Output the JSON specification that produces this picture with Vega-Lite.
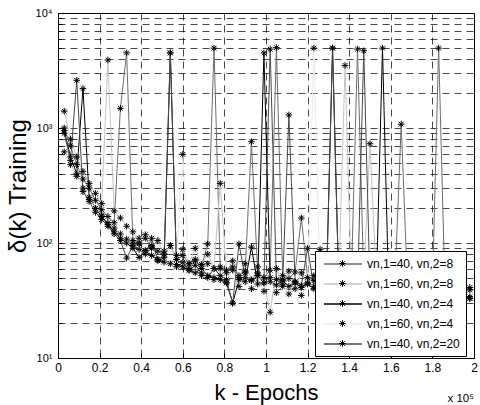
{
"$schema": "https://vega.github.io/schema/vega-lite/v6.json",
"width": 416,
"height": 345,
"autosize": {"type": "none"},
"padding": {"left": 58, "top": 13, "right": 6, "bottom": 47},
"background": "white",
"config": {
  "font": "Liberation Sans",
  "view": {"stroke": "#000", "strokeWidth": 1}
},
"title": {"text": "x 10⁵", "orient": "bottom", "anchor": "end", "frame": "group", "fontSize": 11.5, "fontWeight": "normal", "offset": -10, "font": "Liberation Sans", "color": "#000"},
"data": {"values": [
{"s":"vn,1=40, vn,2=8","x":0.03,"y":1000},{"s":"vn,1=40, vn,2=8","x":0.06,"y":700},{"s":"vn,1=40, vn,2=8","x":0.09,"y":480},{"s":"vn,1=40, vn,2=8","x":0.12,"y":360},{"s":"vn,1=40, vn,2=8","x":0.15,"y":300},{"s":"vn,1=40, vn,2=8","x":0.18,"y":235},{"s":"vn,1=40, vn,2=8","x":0.21,"y":195},{"s":"vn,1=40, vn,2=8","x":0.24,"y":170},{"s":"vn,1=40, vn,2=8","x":0.27,"y":150},{"s":"vn,1=40, vn,2=8","x":0.3,"y":1480},{"s":"vn,1=40, vn,2=8","x":0.33,"y":4500},{"s":"vn,1=40, vn,2=8","x":0.36,"y":105},{"s":"vn,1=40, vn,2=8","x":0.39,"y":98},{"s":"vn,1=40, vn,2=8","x":0.42,"y":110},{"s":"vn,1=40, vn,2=8","x":0.45,"y":92},{"s":"vn,1=40, vn,2=8","x":0.48,"y":85},{"s":"vn,1=40, vn,2=8","x":0.51,"y":80},{"s":"vn,1=40, vn,2=8","x":0.54,"y":95},{"s":"vn,1=40, vn,2=8","x":0.57,"y":72},{"s":"vn,1=40, vn,2=8","x":0.6,"y":78},{"s":"vn,1=40, vn,2=8","x":0.63,"y":66},{"s":"vn,1=40, vn,2=8","x":0.66,"y":70},{"s":"vn,1=40, vn,2=8","x":0.69,"y":63},{"s":"vn,1=40, vn,2=8","x":0.72,"y":98},{"s":"vn,1=40, vn,2=8","x":0.75,"y":4950},{"s":"vn,1=40, vn,2=8","x":0.78,"y":60},{"s":"vn,1=40, vn,2=8","x":0.81,"y":58},{"s":"vn,1=40, vn,2=8","x":0.84,"y":62},{"s":"vn,1=40, vn,2=8","x":0.87,"y":52},{"s":"vn,1=40, vn,2=8","x":0.9,"y":57},{"s":"vn,1=40, vn,2=8","x":0.93,"y":760},{"s":"vn,1=40, vn,2=8","x":0.96,"y":55},{"s":"vn,1=40, vn,2=8","x":0.99,"y":50},{"s":"vn,1=40, vn,2=8","x":1.02,"y":58},{"s":"vn,1=40, vn,2=8","x":1.05,"y":5000},{"s":"vn,1=40, vn,2=8","x":1.08,"y":52},{"s":"vn,1=40, vn,2=8","x":1.11,"y":49},{"s":"vn,1=40, vn,2=8","x":1.14,"y":56},{"s":"vn,1=40, vn,2=8","x":1.17,"y":165},{"s":"vn,1=40, vn,2=8","x":1.2,"y":50},{"s":"vn,1=40, vn,2=8","x":1.23,"y":47},{"s":"vn,1=40, vn,2=8","x":1.26,"y":88},{"s":"vn,1=40, vn,2=8","x":1.29,"y":46},{"s":"vn,1=40, vn,2=8","x":1.32,"y":50},{"s":"vn,1=40, vn,2=8","x":1.35,"y":44},{"s":"vn,1=40, vn,2=8","x":1.38,"y":48},{"s":"vn,1=40, vn,2=8","x":1.41,"y":45},{"s":"vn,1=40, vn,2=8","x":1.44,"y":4850},{"s":"vn,1=40, vn,2=8","x":1.47,"y":47},{"s":"vn,1=40, vn,2=8","x":1.5,"y":43},{"s":"vn,1=40, vn,2=8","x":1.53,"y":46},{"s":"vn,1=40, vn,2=8","x":1.56,"y":44},{"s":"vn,1=40, vn,2=8","x":1.59,"y":42},{"s":"vn,1=40, vn,2=8","x":1.62,"y":45},{"s":"vn,1=40, vn,2=8","x":1.65,"y":1080},{"s":"vn,1=40, vn,2=8","x":1.68,"y":43},{"s":"vn,1=40, vn,2=8","x":1.71,"y":41},{"s":"vn,1=40, vn,2=8","x":1.74,"y":44},{"s":"vn,1=40, vn,2=8","x":1.77,"y":42},{"s":"vn,1=40, vn,2=8","x":1.8,"y":40},{"s":"vn,1=40, vn,2=8","x":1.83,"y":4950},{"s":"vn,1=40, vn,2=8","x":1.86,"y":42},{"s":"vn,1=40, vn,2=8","x":1.89,"y":40},{"s":"vn,1=40, vn,2=8","x":1.92,"y":43},{"s":"vn,1=40, vn,2=8","x":1.95,"y":39},{"s":"vn,1=40, vn,2=8","x":1.98,"y":41},
{"s":"vn,1=60, vn,2=8","x":0.03,"y":1400},{"s":"vn,1=60, vn,2=8","x":0.06,"y":800},{"s":"vn,1=60, vn,2=8","x":0.09,"y":560},{"s":"vn,1=60, vn,2=8","x":0.12,"y":420},{"s":"vn,1=60, vn,2=8","x":0.15,"y":330},{"s":"vn,1=60, vn,2=8","x":0.18,"y":270},{"s":"vn,1=60, vn,2=8","x":0.21,"y":220},{"s":"vn,1=60, vn,2=8","x":0.24,"y":3900},{"s":"vn,1=60, vn,2=8","x":0.27,"y":190},{"s":"vn,1=60, vn,2=8","x":0.3,"y":165},{"s":"vn,1=60, vn,2=8","x":0.33,"y":140},{"s":"vn,1=60, vn,2=8","x":0.36,"y":125},{"s":"vn,1=60, vn,2=8","x":0.39,"y":100},{"s":"vn,1=60, vn,2=8","x":0.42,"y":118},{"s":"vn,1=60, vn,2=8","x":0.45,"y":90},{"s":"vn,1=60, vn,2=8","x":0.48,"y":105},{"s":"vn,1=60, vn,2=8","x":0.51,"y":80},{"s":"vn,1=60, vn,2=8","x":0.54,"y":95},{"s":"vn,1=60, vn,2=8","x":0.57,"y":72},{"s":"vn,1=60, vn,2=8","x":0.6,"y":88},{"s":"vn,1=60, vn,2=8","x":0.63,"y":66},{"s":"vn,1=60, vn,2=8","x":0.66,"y":90},{"s":"vn,1=60, vn,2=8","x":0.69,"y":65},{"s":"vn,1=60, vn,2=8","x":0.72,"y":80},{"s":"vn,1=60, vn,2=8","x":0.75,"y":60},{"s":"vn,1=60, vn,2=8","x":0.78,"y":330},{"s":"vn,1=60, vn,2=8","x":0.81,"y":55},{"s":"vn,1=60, vn,2=8","x":0.84,"y":70},{"s":"vn,1=60, vn,2=8","x":0.87,"y":50},{"s":"vn,1=60, vn,2=8","x":0.9,"y":66},{"s":"vn,1=60, vn,2=8","x":0.93,"y":48},{"s":"vn,1=60, vn,2=8","x":0.96,"y":62},{"s":"vn,1=60, vn,2=8","x":0.99,"y":45},{"s":"vn,1=60, vn,2=8","x":1.02,"y":25},{"s":"vn,1=60, vn,2=8","x":1.05,"y":60},{"s":"vn,1=60, vn,2=8","x":1.08,"y":42},{"s":"vn,1=60, vn,2=8","x":1.11,"y":57},{"s":"vn,1=60, vn,2=8","x":1.14,"y":40},{"s":"vn,1=60, vn,2=8","x":1.17,"y":55},{"s":"vn,1=60, vn,2=8","x":1.2,"y":45},{"s":"vn,1=60, vn,2=8","x":1.23,"y":52},{"s":"vn,1=60, vn,2=8","x":1.26,"y":38},{"s":"vn,1=60, vn,2=8","x":1.29,"y":50},{"s":"vn,1=60, vn,2=8","x":1.32,"y":44},{"s":"vn,1=60, vn,2=8","x":1.35,"y":48},{"s":"vn,1=60, vn,2=8","x":1.38,"y":3500},{"s":"vn,1=60, vn,2=8","x":1.41,"y":48},{"s":"vn,1=60, vn,2=8","x":1.44,"y":46},{"s":"vn,1=60, vn,2=8","x":1.47,"y":49},{"s":"vn,1=60, vn,2=8","x":1.5,"y":730},{"s":"vn,1=60, vn,2=8","x":1.53,"y":47},{"s":"vn,1=60, vn,2=8","x":1.56,"y":45},{"s":"vn,1=60, vn,2=8","x":1.59,"y":47},{"s":"vn,1=60, vn,2=8","x":1.62,"y":44},{"s":"vn,1=60, vn,2=8","x":1.65,"y":46},{"s":"vn,1=60, vn,2=8","x":1.68,"y":43},{"s":"vn,1=60, vn,2=8","x":1.71,"y":45},{"s":"vn,1=60, vn,2=8","x":1.74,"y":42},{"s":"vn,1=60, vn,2=8","x":1.77,"y":44},{"s":"vn,1=60, vn,2=8","x":1.8,"y":41},{"s":"vn,1=60, vn,2=8","x":1.83,"y":43},{"s":"vn,1=60, vn,2=8","x":1.86,"y":40},{"s":"vn,1=60, vn,2=8","x":1.89,"y":42},{"s":"vn,1=60, vn,2=8","x":1.92,"y":40},{"s":"vn,1=60, vn,2=8","x":1.95,"y":41},{"s":"vn,1=60, vn,2=8","x":1.98,"y":39},
{"s":"vn,1=40, vn,2=4","x":0.03,"y":950},{"s":"vn,1=40, vn,2=4","x":0.06,"y":560},{"s":"vn,1=40, vn,2=4","x":0.09,"y":400},{"s":"vn,1=40, vn,2=4","x":0.12,"y":2200},{"s":"vn,1=40, vn,2=4","x":0.15,"y":250},{"s":"vn,1=40, vn,2=4","x":0.18,"y":200},{"s":"vn,1=40, vn,2=4","x":0.21,"y":170},{"s":"vn,1=40, vn,2=4","x":0.24,"y":145},{"s":"vn,1=40, vn,2=4","x":0.27,"y":125},{"s":"vn,1=40, vn,2=4","x":0.3,"y":110},{"s":"vn,1=40, vn,2=4","x":0.33,"y":100},{"s":"vn,1=40, vn,2=4","x":0.36,"y":90},{"s":"vn,1=40, vn,2=4","x":0.39,"y":75},{"s":"vn,1=40, vn,2=4","x":0.42,"y":85},{"s":"vn,1=40, vn,2=4","x":0.45,"y":78},{"s":"vn,1=40, vn,2=4","x":0.48,"y":72},{"s":"vn,1=40, vn,2=4","x":0.51,"y":68},{"s":"vn,1=40, vn,2=4","x":0.54,"y":4500},{"s":"vn,1=40, vn,2=4","x":0.57,"y":65},{"s":"vn,1=40, vn,2=4","x":0.6,"y":62},{"s":"vn,1=40, vn,2=4","x":0.63,"y":58},{"s":"vn,1=40, vn,2=4","x":0.66,"y":55},{"s":"vn,1=40, vn,2=4","x":0.69,"y":60},{"s":"vn,1=40, vn,2=4","x":0.72,"y":52},{"s":"vn,1=40, vn,2=4","x":0.75,"y":50},{"s":"vn,1=40, vn,2=4","x":0.78,"y":48},{"s":"vn,1=40, vn,2=4","x":0.81,"y":45},{"s":"vn,1=40, vn,2=4","x":0.84,"y":30},{"s":"vn,1=40, vn,2=4","x":0.87,"y":48},{"s":"vn,1=40, vn,2=4","x":0.9,"y":46},{"s":"vn,1=40, vn,2=4","x":0.93,"y":92},{"s":"vn,1=40, vn,2=4","x":0.96,"y":44},{"s":"vn,1=40, vn,2=4","x":0.99,"y":4500},{"s":"vn,1=40, vn,2=4","x":1.02,"y":46},{"s":"vn,1=40, vn,2=4","x":1.05,"y":43},{"s":"vn,1=40, vn,2=4","x":1.08,"y":47},{"s":"vn,1=40, vn,2=4","x":1.11,"y":42},{"s":"vn,1=40, vn,2=4","x":1.14,"y":45},{"s":"vn,1=40, vn,2=4","x":1.17,"y":41},{"s":"vn,1=40, vn,2=4","x":1.2,"y":44},{"s":"vn,1=40, vn,2=4","x":1.23,"y":40},{"s":"vn,1=40, vn,2=4","x":1.26,"y":43},{"s":"vn,1=40, vn,2=4","x":1.29,"y":39},{"s":"vn,1=40, vn,2=4","x":1.32,"y":4950},{"s":"vn,1=40, vn,2=4","x":1.35,"y":40},{"s":"vn,1=40, vn,2=4","x":1.38,"y":38},{"s":"vn,1=40, vn,2=4","x":1.41,"y":41},{"s":"vn,1=40, vn,2=4","x":1.44,"y":37},{"s":"vn,1=40, vn,2=4","x":1.47,"y":40},{"s":"vn,1=40, vn,2=4","x":1.5,"y":36},{"s":"vn,1=40, vn,2=4","x":1.53,"y":39},{"s":"vn,1=40, vn,2=4","x":1.56,"y":4950},{"s":"vn,1=40, vn,2=4","x":1.59,"y":37},{"s":"vn,1=40, vn,2=4","x":1.62,"y":38},{"s":"vn,1=40, vn,2=4","x":1.65,"y":36},{"s":"vn,1=40, vn,2=4","x":1.68,"y":37},{"s":"vn,1=40, vn,2=4","x":1.71,"y":35},{"s":"vn,1=40, vn,2=4","x":1.74,"y":36},{"s":"vn,1=40, vn,2=4","x":1.77,"y":34},{"s":"vn,1=40, vn,2=4","x":1.8,"y":36},{"s":"vn,1=40, vn,2=4","x":1.83,"y":35},{"s":"vn,1=40, vn,2=4","x":1.86,"y":34},{"s":"vn,1=40, vn,2=4","x":1.89,"y":35},{"s":"vn,1=40, vn,2=4","x":1.92,"y":33},{"s":"vn,1=40, vn,2=4","x":1.95,"y":34},{"s":"vn,1=40, vn,2=4","x":1.98,"y":33},
{"s":"vn,1=60, vn,2=4","x":0.03,"y":620},{"s":"vn,1=60, vn,2=4","x":0.06,"y":480},{"s":"vn,1=60, vn,2=4","x":0.09,"y":380},{"s":"vn,1=60, vn,2=4","x":0.12,"y":300},{"s":"vn,1=60, vn,2=4","x":0.15,"y":240},{"s":"vn,1=60, vn,2=4","x":0.18,"y":200},{"s":"vn,1=60, vn,2=4","x":0.21,"y":175},{"s":"vn,1=60, vn,2=4","x":0.24,"y":150},{"s":"vn,1=60, vn,2=4","x":0.27,"y":135},{"s":"vn,1=60, vn,2=4","x":0.3,"y":120},{"s":"vn,1=60, vn,2=4","x":0.33,"y":108},{"s":"vn,1=60, vn,2=4","x":0.36,"y":98},{"s":"vn,1=60, vn,2=4","x":0.39,"y":110},{"s":"vn,1=60, vn,2=4","x":0.42,"y":86},{"s":"vn,1=60, vn,2=4","x":0.45,"y":95},{"s":"vn,1=60, vn,2=4","x":0.48,"y":72},{"s":"vn,1=60, vn,2=4","x":0.51,"y":85},{"s":"vn,1=60, vn,2=4","x":0.54,"y":66},{"s":"vn,1=60, vn,2=4","x":0.57,"y":78},{"s":"vn,1=60, vn,2=4","x":0.6,"y":590},{"s":"vn,1=60, vn,2=4","x":0.63,"y":60},{"s":"vn,1=60, vn,2=4","x":0.66,"y":72},{"s":"vn,1=60, vn,2=4","x":0.69,"y":52},{"s":"vn,1=60, vn,2=4","x":0.72,"y":66},{"s":"vn,1=60, vn,2=4","x":0.75,"y":48},{"s":"vn,1=60, vn,2=4","x":0.78,"y":62},{"s":"vn,1=60, vn,2=4","x":0.81,"y":45},{"s":"vn,1=60, vn,2=4","x":0.84,"y":58},{"s":"vn,1=60, vn,2=4","x":0.87,"y":42},{"s":"vn,1=60, vn,2=4","x":0.9,"y":55},{"s":"vn,1=60, vn,2=4","x":0.93,"y":40},{"s":"vn,1=60, vn,2=4","x":0.96,"y":52},{"s":"vn,1=60, vn,2=4","x":0.99,"y":38},{"s":"vn,1=60, vn,2=4","x":1.02,"y":50},{"s":"vn,1=60, vn,2=4","x":1.05,"y":37},{"s":"vn,1=60, vn,2=4","x":1.08,"y":48},{"s":"vn,1=60, vn,2=4","x":1.11,"y":36},{"s":"vn,1=60, vn,2=4","x":1.14,"y":46},{"s":"vn,1=60, vn,2=4","x":1.17,"y":35},{"s":"vn,1=60, vn,2=4","x":1.2,"y":44},{"s":"vn,1=60, vn,2=4","x":1.23,"y":4950},{"s":"vn,1=60, vn,2=4","x":1.26,"y":42},{"s":"vn,1=60, vn,2=4","x":1.29,"y":43},{"s":"vn,1=60, vn,2=4","x":1.32,"y":41},{"s":"vn,1=60, vn,2=4","x":1.35,"y":42},{"s":"vn,1=60, vn,2=4","x":1.38,"y":40},{"s":"vn,1=60, vn,2=4","x":1.41,"y":41},{"s":"vn,1=60, vn,2=4","x":1.44,"y":39},{"s":"vn,1=60, vn,2=4","x":1.47,"y":40},{"s":"vn,1=60, vn,2=4","x":1.5,"y":38},{"s":"vn,1=60, vn,2=4","x":1.53,"y":39},{"s":"vn,1=60, vn,2=4","x":1.56,"y":38},{"s":"vn,1=60, vn,2=4","x":1.59,"y":37},{"s":"vn,1=60, vn,2=4","x":1.62,"y":38},{"s":"vn,1=60, vn,2=4","x":1.65,"y":36},{"s":"vn,1=60, vn,2=4","x":1.68,"y":37},{"s":"vn,1=60, vn,2=4","x":1.71,"y":36},{"s":"vn,1=60, vn,2=4","x":1.74,"y":35},{"s":"vn,1=60, vn,2=4","x":1.77,"y":36},{"s":"vn,1=60, vn,2=4","x":1.8,"y":35},{"s":"vn,1=60, vn,2=4","x":1.83,"y":34},{"s":"vn,1=60, vn,2=4","x":1.86,"y":35},{"s":"vn,1=60, vn,2=4","x":1.89,"y":34},{"s":"vn,1=60, vn,2=4","x":1.92,"y":33},{"s":"vn,1=60, vn,2=4","x":1.95,"y":34},{"s":"vn,1=60, vn,2=4","x":1.98,"y":33},
{"s":"vn,1=40, vn,2=20","x":0.03,"y":900},{"s":"vn,1=40, vn,2=20","x":0.06,"y":520},{"s":"vn,1=40, vn,2=20","x":0.09,"y":2600},{"s":"vn,1=40, vn,2=20","x":0.12,"y":280},{"s":"vn,1=40, vn,2=20","x":0.15,"y":230},{"s":"vn,1=40, vn,2=20","x":0.18,"y":185},{"s":"vn,1=40, vn,2=20","x":0.21,"y":160},{"s":"vn,1=40, vn,2=20","x":0.24,"y":140},{"s":"vn,1=40, vn,2=20","x":0.27,"y":120},{"s":"vn,1=40, vn,2=20","x":0.3,"y":105},{"s":"vn,1=40, vn,2=20","x":0.33,"y":74},{"s":"vn,1=40, vn,2=20","x":0.36,"y":95},{"s":"vn,1=40, vn,2=20","x":0.39,"y":88},{"s":"vn,1=40, vn,2=20","x":0.42,"y":80},{"s":"vn,1=40, vn,2=20","x":0.45,"y":110},{"s":"vn,1=40, vn,2=20","x":0.48,"y":70},{"s":"vn,1=40, vn,2=20","x":0.51,"y":75},{"s":"vn,1=40, vn,2=20","x":0.54,"y":4500},{"s":"vn,1=40, vn,2=20","x":0.57,"y":62},{"s":"vn,1=40, vn,2=20","x":0.6,"y":68},{"s":"vn,1=40, vn,2=20","x":0.63,"y":58},{"s":"vn,1=40, vn,2=20","x":0.66,"y":64},{"s":"vn,1=40, vn,2=20","x":0.69,"y":55},{"s":"vn,1=40, vn,2=20","x":0.72,"y":50},{"s":"vn,1=40, vn,2=20","x":0.75,"y":60},{"s":"vn,1=40, vn,2=20","x":0.78,"y":52},{"s":"vn,1=40, vn,2=20","x":0.81,"y":48},{"s":"vn,1=40, vn,2=20","x":0.84,"y":30},{"s":"vn,1=40, vn,2=20","x":0.87,"y":98},{"s":"vn,1=40, vn,2=20","x":0.9,"y":50},{"s":"vn,1=40, vn,2=20","x":0.93,"y":47},{"s":"vn,1=40, vn,2=20","x":0.96,"y":52},{"s":"vn,1=40, vn,2=20","x":0.99,"y":45},{"s":"vn,1=40, vn,2=20","x":1.02,"y":4850},{"s":"vn,1=40, vn,2=20","x":1.05,"y":48},{"s":"vn,1=40, vn,2=20","x":1.08,"y":44},{"s":"vn,1=40, vn,2=20","x":1.11,"y":1300},{"s":"vn,1=40, vn,2=20","x":1.14,"y":46},{"s":"vn,1=40, vn,2=20","x":1.17,"y":43},{"s":"vn,1=40, vn,2=20","x":1.2,"y":90},{"s":"vn,1=40, vn,2=20","x":1.23,"y":42},{"s":"vn,1=40, vn,2=20","x":1.26,"y":45},{"s":"vn,1=40, vn,2=20","x":1.29,"y":41},{"s":"vn,1=40, vn,2=20","x":1.32,"y":4950},{"s":"vn,1=40, vn,2=20","x":1.35,"y":43},{"s":"vn,1=40, vn,2=20","x":1.38,"y":40},{"s":"vn,1=40, vn,2=20","x":1.41,"y":42},{"s":"vn,1=40, vn,2=20","x":1.44,"y":39},{"s":"vn,1=40, vn,2=20","x":1.47,"y":4700},{"s":"vn,1=40, vn,2=20","x":1.5,"y":41},{"s":"vn,1=40, vn,2=20","x":1.53,"y":38},{"s":"vn,1=40, vn,2=20","x":1.56,"y":40},{"s":"vn,1=40, vn,2=20","x":1.59,"y":37},{"s":"vn,1=40, vn,2=20","x":1.62,"y":39},{"s":"vn,1=40, vn,2=20","x":1.65,"y":38},{"s":"vn,1=40, vn,2=20","x":1.68,"y":36},{"s":"vn,1=40, vn,2=20","x":1.71,"y":38},{"s":"vn,1=40, vn,2=20","x":1.74,"y":35},{"s":"vn,1=40, vn,2=20","x":1.77,"y":37},{"s":"vn,1=40, vn,2=20","x":1.8,"y":36},{"s":"vn,1=40, vn,2=20","x":1.83,"y":35},{"s":"vn,1=40, vn,2=20","x":1.86,"y":36},{"s":"vn,1=40, vn,2=20","x":1.89,"y":34},{"s":"vn,1=40, vn,2=20","x":1.92,"y":35},{"s":"vn,1=40, vn,2=20","x":1.95,"y":33},{"s":"vn,1=40, vn,2=20","x":1.98,"y":34}
]},
"encoding": {
  "x": {"field": "x", "type": "quantitative", "scale": {"domain": [0, 2], "nice": false, "zero": false},
    "axis": {"title": "k - Epochs", "values": [0,0.2,0.4,0.6,0.8,1,1.2,1.4,1.6,1.8,2], "format": "~g", "grid": true, "gridDash": [7,5], "gridColor": "#000", "gridWidth": 0.8, "gridOpacity": 0.9, "domainColor": "#000", "tickColor": "#000", "tickSize": -5, "labelPadding": 9, "labelFontSize": 12, "labelColor": "#000", "labelFlush": false, "titleFontSize": 22, "titleFontWeight": "normal", "titleColor": "#000", "titlePadding": 9}},
  "y": {"field": "y", "type": "quantitative", "scale": {"type": "log", "domain": [10, 10000], "nice": false},
    "axis": {"title": "δ(k) Training", "values": [10,20,30,40,50,60,70,80,90,100,200,300,400,500,600,700,800,900,1000,2000,3000,4000,5000,6000,7000,8000,9000,10000], "labelExpr": "datum.value == 10 ? '10¹' : datum.value == 100 ? '10²' : datum.value == 1000 ? '10³' : datum.value == 10000 ? '10⁴' : ''", "grid": true, "gridDash": [7,5], "gridColor": "#000", "gridWidth": 0.8, "gridOpacity": 0.9, "domainColor": "#000", "tickColor": "#000", "tickSize": -4, "labelPadding": 10, "labelFontSize": 11, "labelColor": "#000", "labelFlush": false, "labelOverlap": false, "titleFontSize": 24, "titleFontWeight": "normal", "titleColor": "#000", "titlePadding": 5}}
},
"layer": [
  {"mark": {"type": "line", "strokeWidth": 1, "clip": true},
   "encoding": {
     "color": {"field": "s", "type": "nominal",
       "scale": {"domain": ["vn,1=40, vn,2=8","vn,1=60, vn,2=8","vn,1=40, vn,2=4","vn,1=60, vn,2=4","vn,1=40, vn,2=20"], "range": ["#6e6e6e","#c4c4c4","#000000","#ebebeb","#4a4a4a"]},
       "legend": {"title": null, "orient": "none", "legendX": 257, "legendY": 238, "padding": 6, "strokeColor": "#000", "fillColor": "#fff", "cornerRadius": 0, "symbolType": "M-3.17,0H3.17", "symbolSize": 144, "symbolStrokeWidth": 1.3, "symbolOffset": 15, "labelOffset": 17, "labelFontSize": 12, "labelColor": "#000", "labelFont": "Liberation Sans", "rowPadding": 7, "zindex": 1}}
   }},
  {"mark": {"type": "point", "filled": false, "color": "#000", "size": 144, "strokeWidth": 1, "opacity": 1, "clip": true},
   "encoding": {
     "shape": {"field": "s", "type": "nominal",
       "scale": {"domain": ["vn,1=40, vn,2=20","vn,1=40, vn,2=4","vn,1=40, vn,2=8","vn,1=60, vn,2=4","vn,1=60, vn,2=8"], "range": ["M0,-0.55V0.55M-0.55,0H0.55M-0.39,-0.39L0.39,0.39M-0.39,0.39L0.39,-0.39","M0,-0.55V0.55M-0.55,0H0.55M-0.39,-0.39L0.39,0.39M-0.39,0.39L0.39,-0.39","M0,-0.55V0.55M-0.55,0H0.55M-0.39,-0.39L0.39,0.39M-0.39,0.39L0.39,-0.39","M0,-0.55V0.55M-0.55,0H0.55M-0.39,-0.39L0.39,0.39M-0.39,0.39L0.39,-0.39","M0,-0.55V0.55M-0.55,0H0.55M-0.39,-0.39L0.39,0.39M-0.39,0.39L0.39,-0.39"]},
       "legend": {"title": null, "orient": "none", "legendX": 257, "legendY": 238, "padding": 6, "symbolSize": 144, "symbolStrokeColor": "#000", "symbolStrokeWidth": 1, "symbolOffset": 15, "labelOffset": 17, "labelFontSize": 12, "labelExpr": "''", "rowPadding": 7, "zindex": 2}}
   }}
]
}
